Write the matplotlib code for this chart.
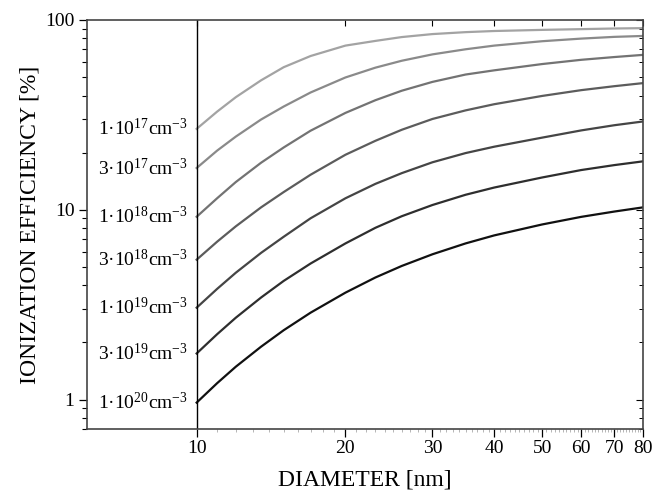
import numpy as np
import matplotlib
matplotlib.use('Agg')
import matplotlib.pyplot as plt
from matplotlib.ticker import FixedLocator, NullFormatter, FixedFormatter

plt.rcParams['font.family'] = ['Liberation Serif', 'DejaVu Serif']
plt.rcParams['mathtext.fontset'] = 'custom'
plt.rcParams['mathtext.rm'] = 'Liberation Serif'
plt.rcParams['mathtext.it'] = 'Liberation Serif:italic'

# diameter values (nm) where the curves were read
diameter = [10, 11, 12, 13.5, 15, 17, 20, 23, 26, 30, 35, 40, 50, 60, 70, 80]

# ionization efficiency (%) for each doping concentration
eff_1e17 = [26.7, 32.9, 39.2, 48.1, 56.4, 64.6, 73.3, 77.6, 81.3, 84.3, 86.3, 87.5, 88.7, 89.5, 90.2, 90.6]
eff_3e17 = [16.6, 20.5, 24.3, 29.9, 35.0, 41.5, 49.8, 56.1, 61.0, 65.9, 70.1, 73.3, 77.3, 79.8, 81.5, 82.4]
eff_1e18 = [9.19, 11.5, 14.0, 17.7, 21.3, 26.1, 32.4, 37.8, 42.4, 47.2, 51.6, 54.3, 58.6, 61.7, 63.8, 65.5]
eff_3e18 = [5.46, 6.79, 8.18, 10.3, 12.4, 15.3, 19.5, 23.1, 26.4, 30.1, 33.4, 36.0, 39.8, 42.7, 44.8, 46.5]
eff_1e19 = [3.05, 3.83, 4.66, 5.93, 7.21, 9.02, 11.5, 13.7, 15.6, 17.8, 19.9, 21.5, 24.0, 26.2, 27.9, 29.2]
eff_3e19 = [1.75, 2.21, 2.70, 3.45, 4.22, 5.21, 6.65, 8.04, 9.25, 10.6, 12.0, 13.1, 14.8, 16.2, 17.2, 18.0]
eff_1e20 = [0.964, 1.22, 1.49, 1.90, 2.32, 2.87, 3.66, 4.40, 5.06, 5.83, 6.65, 7.33, 8.37, 9.18, 9.79, 10.3]

series = [eff_1e17, eff_3e17, eff_1e18, eff_3e18, eff_1e19, eff_3e19, eff_1e20]
labels = ['1·10$^{17}$cm$^{-3}$', '3·10$^{17}$cm$^{-3}$', '1·10$^{18}$cm$^{-3}$',
          '3·10$^{18}$cm$^{-3}$', '1·10$^{19}$cm$^{-3}$', '3·10$^{19}$cm$^{-3}$',
          '1·10$^{20}$cm$^{-3}$']
colors = ['#a3a3a3', '#8a8a8a', '#737373', '#5c5c5c', '#454545', '#2e2e2e', '#111111']

xticks = [10, 20, 30, 40, 50, 60, 70, 80]

fig = plt.figure(figsize=(6.56, 4.97), dpi=100)
ax = fig.add_axes([87 / 656, 1 - 429 / 497, (643 - 87) / 656, (429 - 20) / 497])

for y, c in zip(series, colors):
    ax.plot(diameter, y, '-', color=c, linewidth=1.6)

ax.axvline(10, color='black', linewidth=1.0)

ax.set_xscale('log')
ax.set_yscale('log')
ax.set_xlim(6.0, 80)
ax.set_ylim(0.7, 100)

for y, lab in zip(series, labels):
    ax.text(9.6, y[0], lab, ha='right', va='center', fontsize=14)

# x ticks
ax.xaxis.set_major_locator(FixedLocator(xticks))
ax.xaxis.set_major_formatter(FixedFormatter([str(t) for t in xticks]))
ax.xaxis.set_minor_locator(FixedLocator([t for t in range(11, 80) if t % 10 != 0]))
ax.xaxis.set_minor_formatter(NullFormatter())
ax.tick_params(axis='x', which='major', direction='out', length=6, width=0.9,
               labelsize=14, top=False, pad=2)
ax.tick_params(axis='x', which='minor', direction='out', length=2, width=0.5,
               color='#999999', top=False)

# y ticks
ax.yaxis.set_major_locator(FixedLocator([1, 10, 100]))
ax.yaxis.set_major_formatter(FixedFormatter(['1', '10', '100']))
ymin = [v * m for m in (0.1, 1, 10) for v in range(2, 10) if 0.7 <= v * m < 100]
ax.yaxis.set_minor_locator(FixedLocator(ymin))
ax.yaxis.set_minor_formatter(NullFormatter())
ax.tick_params(axis='y', which='major', direction='out', length=6, width=0.9,
               labelsize=14, right=False, pad=3)
ax.tick_params(axis='y', which='minor', direction='out', length=3.5, width=0.8,
               right=False)

# inward ticks on top and right
secx = ax.secondary_xaxis('top')
secx.xaxis.set_major_locator(FixedLocator(xticks))
secx.xaxis.set_minor_locator(FixedLocator([]))
secx.tick_params(direction='in', length=4, width=0.8, labeltop=False)
secy = ax.secondary_yaxis('right')
secy.yaxis.set_major_locator(FixedLocator([1, 10, 100]))
secy.yaxis.set_minor_locator(FixedLocator(ymin))
secy.yaxis.set_major_formatter(NullFormatter())
secy.yaxis.set_minor_formatter(NullFormatter())
secy.tick_params(which='major', direction='in', length=5, width=0.8)
secy.tick_params(which='minor', direction='in', length=3, width=0.7)

for s in ax.spines.values():
    s.set_linewidth(1.2)
    s.set_color('#444444')
secx.spines['top'].set_visible(False)
secy.spines['right'].set_visible(False)

ax.set_xlabel('DIAMETER [nm]', fontsize=17, labelpad=9)
ax.set_ylabel('IONIZATION EFFICIENCY [%]', fontsize=17, labelpad=3)

fig.savefig('out.png', dpi=100)
